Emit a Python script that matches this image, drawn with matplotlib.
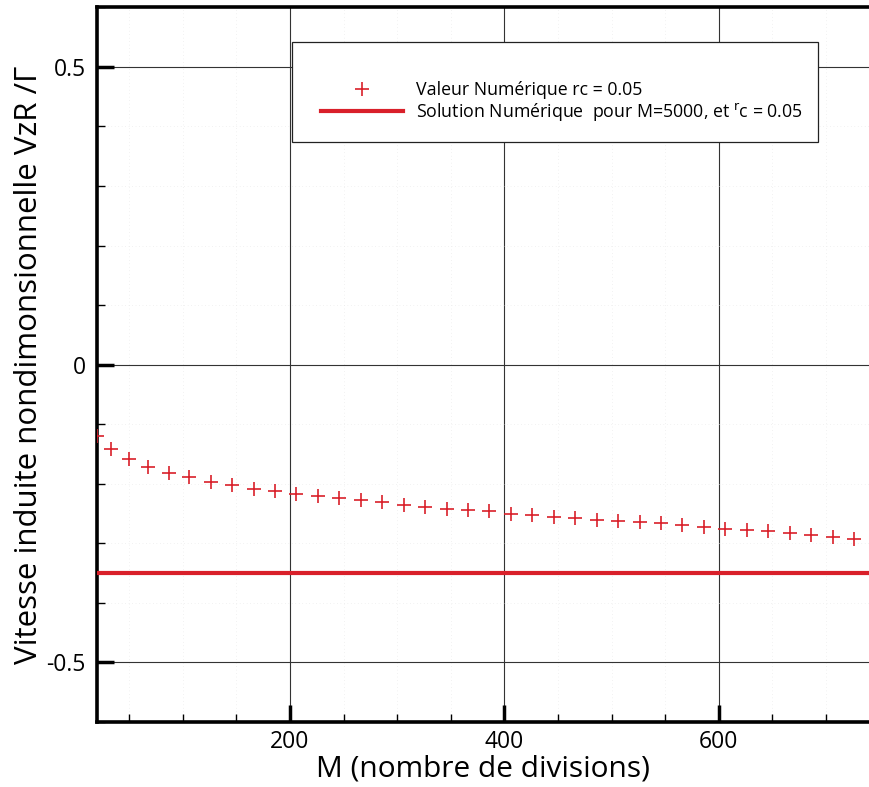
# Induced velocity versus number of divisions M

import numpy as np
from matplotlib import pyplot as plt
from matplotlib.patches import Rectangle
from matplotlib.ticker import MultipleLocator

plt.rcParams['font.family'] = ['Open Sans', 'DejaVu Sans']

# number of divisions M and computed non-dimensional velocity VzR/Gamma
m_div = [20, 33, 50, 68, 87, 106, 126, 146, 166, 186, 206, 226, 246, 266,
         286, 306, 326, 346, 366, 386, 406, 426, 446, 466, 486, 506, 526,
         546, 566, 586, 606, 626, 646, 666, 686, 706, 726]
vz = [-0.119, -0.142, -0.158, -0.172, -0.182, -0.189, -0.197, -0.202,
      -0.208, -0.212, -0.218, -0.221, -0.224, -0.228, -0.231, -0.235,
      -0.239, -0.242, -0.244, -0.246, -0.250, -0.252, -0.255, -0.258,
      -0.261, -0.263, -0.265, -0.266, -0.269, -0.272, -0.276, -0.278,
      -0.280, -0.283, -0.286, -0.289, -0.293]
vz_ref = -0.349  # solution for M=5000

label_pts = 'Valeur Numérique rc = 0.05'
label_ref = r'Solution Numérique  pour M=5000, et $^{\mathrm{r}}$c = 0.05'

red = '#d9202a'

fig = plt.figure(figsize=(8.69, 7.87), dpi=100)
ax = fig.add_axes([0.1116, 0.0826, 0.8884, 0.9081])

ax.axhline(vz_ref, color=red, lw=3.0, label=label_ref, zorder=3)
ax.plot(m_div, vz, linestyle='none', marker='+', color=red, ms=10, mew=1.2,
        label=label_pts, zorder=4)

ax.set_xlim(20, 740)
ax.set_ylim(-0.6, 0.6)
ax.xaxis.set_major_locator(MultipleLocator(200))
ax.xaxis.set_minor_locator(MultipleLocator(50))
ax.yaxis.set_major_locator(MultipleLocator(0.5))
ax.yaxis.set_minor_locator(MultipleLocator(0.1))
ax.yaxis.set_major_formatter(plt.FuncFormatter(lambda v, p: '%g' % round(v, 2)))

ax.grid(which='major', color='#333333', lw=0.8, zorder=1)
ax.grid(which='minor', color='#e6e6e6', lw=0.5, linestyle=(0, (1, 4)), zorder=1)

ax.tick_params(which='major', direction='in', length=12, width=2.5,
               labelsize=16.5, pad=8)
ax.tick_params(axis='x', which='major', pad=6)
ax.tick_params(which='minor', direction='in', length=6, width=1)
ax.tick_params(top=False, right=False, which='both')

for side in ['left', 'bottom', 'top']:
    ax.spines[side].set_linewidth(2.6)
ax.spines['right'].set_visible(False)

ax.set_xlabel('M (nombre de divisions)', fontsize=21.5, labelpad=0)
ax.set_ylabel('Vitesse induite nondimonsionnelle VzR /Γ', fontsize=22.5,
              labelpad=2)

# legend box
bx, by, bw, bh = 0.2523, 0.8109, 0.6813, 0.1401
box = Rectangle((bx, by), bw, bh, transform=ax.transAxes,
                facecolor='white', edgecolor='#222222', lw=0.9, zorder=5)
ax.add_patch(box)
handles, labels = ax.get_legend_handles_labels()
leg = ax.legend(handles[::-1], labels[::-1], loc='center left',
                bbox_to_anchor=(0.2694, 0.8669),
                frameon=False, fontsize=12.8, handlelength=4.6,
                labelspacing=0.1, handletextpad=0.73)
leg.set_zorder(6)

fig.savefig('out.png', dpi=100)
